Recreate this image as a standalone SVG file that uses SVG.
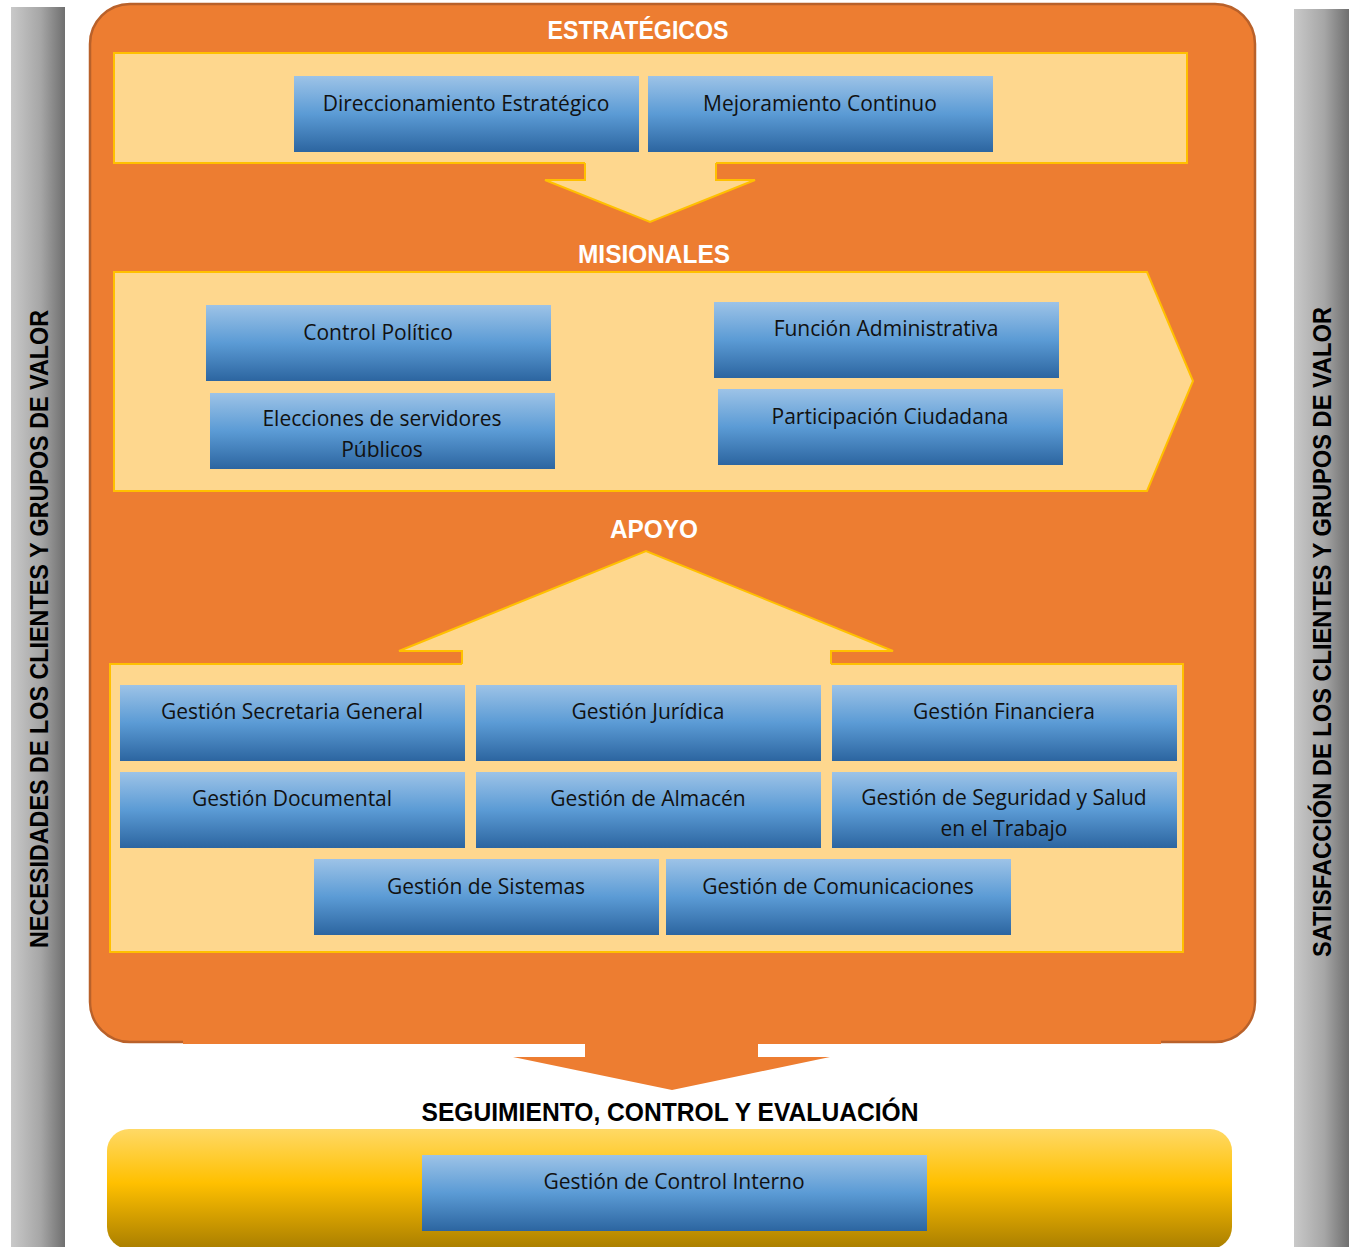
<svg xmlns="http://www.w3.org/2000/svg" width="1353" height="1247" viewBox="0 0 1353 1247">
<defs>
<linearGradient id="gBlue" x1="0" y1="0" x2="0" y2="1">
<stop offset="0" stop-color="#9DC3E7"/>
<stop offset="0.5" stop-color="#5B9BD5"/>
<stop offset="1" stop-color="#2C65A0"/>
</linearGradient>
<linearGradient id="gGray" x1="0" y1="0" x2="1" y2="0">
<stop offset="0" stop-color="#C9C9C9"/>
<stop offset="0.55" stop-color="#A6A6A6"/>
<stop offset="1" stop-color="#6F6F6F"/>
</linearGradient>
<linearGradient id="gGold" x1="0" y1="0" x2="0" y2="1">
<stop offset="0" stop-color="#FFD966"/>
<stop offset="0.45" stop-color="#FFC000"/>
<stop offset="1" stop-color="#A97E00"/>
</linearGradient>
<style>
.box{fill:url(#gBlue);}
.t{font-family:"Open Sans","Liberation Sans",sans-serif;font-size:21px;fill:#111;text-anchor:middle;}
.h{font-family:"Liberation Sans","Open Sans",sans-serif;font-weight:bold;font-size:25px;text-anchor:middle;}
.w{fill:#FFFFFF;}
.k{fill:#000000;}
.panel{fill:#FED78E;stroke:#FFC000;stroke-width:2;}
.pfill{fill:#FED78E;stroke:none;}
.pline{fill:none;stroke:#FFC000;stroke-width:2;}
</style>
</defs>

<g id="side-left">
<rect x="11" y="7" width="54" height="1242" fill="url(#gGray)"/>
<text class="h k" transform="translate(48,629) rotate(-90)" textLength="638" lengthAdjust="spacingAndGlyphs">NECESIDADES DE LOS CLIENTES Y GRUPOS DE VALOR</text>
</g>
<g id="side-right">
<rect x="1294" y="9" width="55" height="1240" fill="url(#gGray)"/>
<text class="h k" transform="translate(1331,632) rotate(-90)" textLength="650" lengthAdjust="spacingAndGlyphs">SATISFACCIÓN DE LOS CLIENTES Y GRUPOS DE VALOR</text>
</g>

<g id="main-frame">
<rect x="90" y="4" width="1165" height="1038" rx="40" ry="40" fill="#ED7D31" stroke="#B9612A" stroke-width="2.5"/>
</g>

<g id="estrategicos">
<rect class="panel" x="114" y="53" width="1073" height="110"/>
<text class="h w" x="638" y="39" textLength="181" lengthAdjust="spacingAndGlyphs">ESTRATÉGICOS</text>
</g>

<g id="misionales">
<polygon class="panel" points="114,272 1147,272 1193,381 1147,491 114,491"/>
<text class="h w" x="654" y="263" textLength="152" lengthAdjust="spacingAndGlyphs">MISIONALES</text>
</g>

<g id="apoyo">
<rect class="panel" x="110" y="664" width="1073" height="288"/>
<text class="h w" x="654" y="538" textLength="88" lengthAdjust="spacingAndGlyphs">APOYO</text>
</g>

<g id="connectors">
<path class="pfill" d="M585,160 V180 H545 L650,222 L755,180 H716 V160 Z"/>
<path class="pline" d="M585,163 V180 H545 L650,222 L755,180 H716 V163"/>
<path class="pfill" d="M462,667 V651 H399 L646,551 L893,651 H831 V667 Z"/>
<path class="pline" d="M462,664 V651 H399 L646,551 L893,651 H831 V664"/>
<rect x="183" y="1030" width="978" height="14" fill="#ED7D31"/>
<path d="M585,1040 V1057 H513 L672,1090 L830,1057 H758 V1040 Z" fill="#ED7D31"/>
</g>

<g id="n-direccionamiento"><rect class="box" x="294" y="76" width="345" height="76"/><text class="t" x="466" y="111">Direccionamiento Estratégico</text></g>
<g id="n-mejoramiento"><rect class="box" x="648" y="76" width="345" height="76"/><text class="t" x="820" y="111">Mejoramiento Continuo</text></g>

<g id="n-control-politico"><rect class="box" x="206" y="305" width="345" height="76"/><text class="t" x="378" y="340">Control Político</text></g>
<g id="n-elecciones"><rect class="box" x="210" y="393" width="345" height="76"/><text class="t" x="382" y="426">Elecciones de servidores</text><text class="t" x="382" y="457">Públicos</text></g>
<g id="n-funcion-admin"><rect class="box" x="714" y="302" width="345" height="76"/><text class="t" x="886" y="336">Función Administrativa</text></g>
<g id="n-participacion"><rect class="box" x="718" y="389" width="345" height="76"/><text class="t" x="890" y="424">Participación Ciudadana</text></g>

<g id="n-secretaria"><rect class="box" x="120" y="685" width="345" height="76"/><text class="t" x="292" y="719">Gestión Secretaria General</text></g>
<g id="n-juridica"><rect class="box" x="476" y="685" width="345" height="76"/><text class="t" x="648" y="719">Gestión Jurídica</text></g>
<g id="n-financiera"><rect class="box" x="832" y="685" width="345" height="76"/><text class="t" x="1004" y="719">Gestión Financiera</text></g>
<g id="n-documental"><rect class="box" x="120" y="772" width="345" height="76"/><text class="t" x="292" y="806">Gestión Documental</text></g>
<g id="n-almacen"><rect class="box" x="476" y="772" width="345" height="76"/><text class="t" x="648" y="806">Gestión de Almacén</text></g>
<g id="n-seguridad"><rect class="box" x="832" y="772" width="345" height="76"/><text class="t" x="1004" y="805">Gestión de Seguridad y Salud</text><text class="t" x="1004" y="836">en el Trabajo</text></g>
<g id="n-sistemas"><rect class="box" x="314" y="859" width="345" height="76"/><text class="t" x="486" y="894">Gestión de Sistemas</text></g>
<g id="n-comunicaciones"><rect class="box" x="666" y="859" width="345" height="76"/><text class="t" x="838" y="894">Gestión de Comunicaciones</text></g>

<g id="seguimiento">
<text class="h k" x="670" y="1121" textLength="497" lengthAdjust="spacingAndGlyphs">SEGUIMIENTO, CONTROL Y EVALUACIÓN</text>
<rect x="107" y="1129" width="1125" height="120" rx="22" ry="22" fill="url(#gGold)"/>
</g>
<g id="n-control-interno"><rect class="box" x="422" y="1155" width="505" height="76"/><text class="t" x="674" y="1189">Gestión de Control Interno</text></g>
</svg>
